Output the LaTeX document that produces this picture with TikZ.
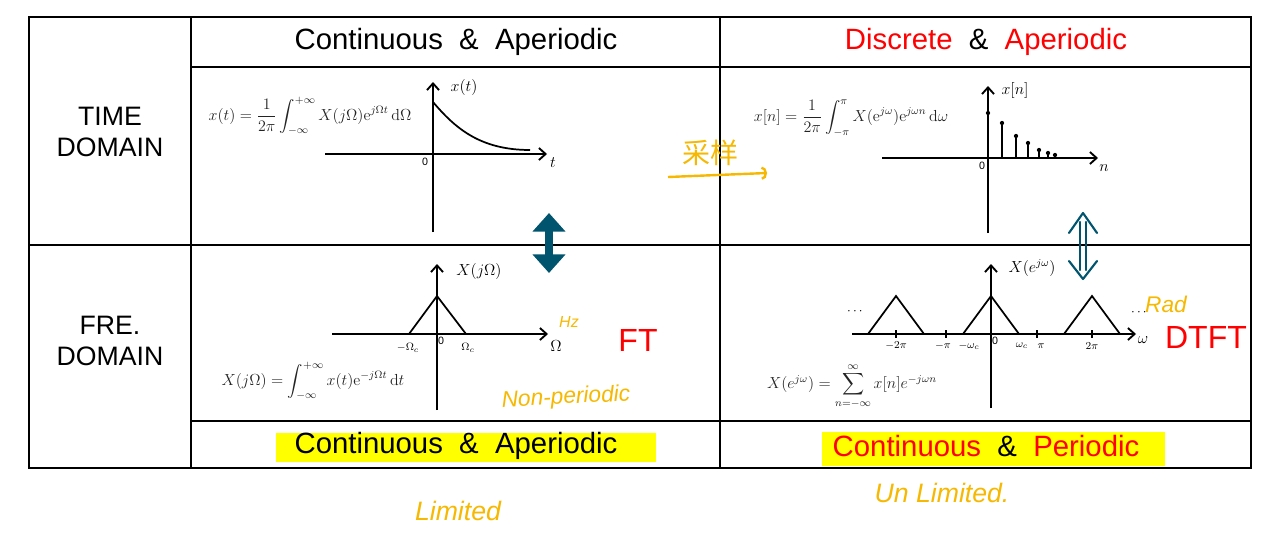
\documentclass[tikz,border=0pt]{standalone}
\usepackage{amsmath}
\usepackage{amssymb}
\usepackage[no-math]{fontspec}
\setmainfont{Liberation Sans}
\newfontfamily\cjkfont{Noto Sans CJK SC}
\usetikzlibrary{arrows.meta}

\definecolor{arrowteal}{RGB}{0,84,110}
\definecolor{handyellow}{RGB}{246,184,0}
\definecolor{hilite}{RGB}{255,255,0}
\definecolor{formulagray}{RGB}{35,35,35}

\begin{document}
\begin{tikzpicture}[x=0.75pt, y=-0.75pt,
  tabline/.style={line width=1.3pt},
  axis/.style={line width=1.4pt, -{Straight Barb[length=5pt,width=9pt]}},
  sketch/.style={line width=1.3pt},
  heading/.style={font=\fontsize{22}{25}\selectfont},
  rowname/.style={font=\fontsize{20}{23}\selectfont, align=center},
  bigname/.style={font=\fontsize{24}{28}\selectfont, text=red},
  formula/.style={text=formulagray, font=\fontsize{11.5}{13}\selectfont},
  axlabel/.style={font=\large},
  ticklabel/.style={font=\footnotesize, inner sep=1pt},
  hand/.style={text=handyellow, font=\itshape\fontsize{17}{20}\selectfont},
  tealbold/.style={draw=arrowteal, line width=6pt, {Triangle[length=14pt,width=24pt]}-{Triangle[length=14pt,width=24pt]}},
  tealthin/.style={draw=arrowteal, line width=1.6pt, line cap=round, line join=round}]

\useasboundingbox (0,0) rectangle (1269,543) ;

\fill [hilite] (276,433) rectangle (656,462) ;
\fill [hilite] (822,432) rectangle (1165,466) ;

\draw [tabline] (29,17) rectangle (1251,468) ;
\draw [tabline] (191,17) to (191,468) ;
\draw [tabline] (720,17) to (720,468) ;
\draw [tabline] (191,67) to (1251,67) ;
\draw [tabline] (29,245) to (1251,245) ;
\draw [tabline] (191,421) to (1251,421) ;

\node [heading] (hdrCont) at (456,42) {Continuous~~\&~~Aperiodic} ;
\node [heading] (hdrDisc) at (986,42) {\textcolor{red}{Discrete}~~\&~~\textcolor{red}{Aperiodic}} ;
\node [rowname] (rowTime) at (110,132) {TIME\\DOMAIN} ;
\node [rowname] (rowFreq) at (110,341) {FRE.\\DOMAIN} ;
\node [heading] (botCont) at (456,446) {Continuous~~\&~~Aperiodic} ;
\node [heading] (botPer) at (986,446) {\textcolor{red}{Continuous}~~\&~~\textcolor{red}{Periodic}} ;

\draw [axis] (325,154) to (547,154) ;
\draw [axis] (433,232) to (433,82) ;
\draw [sketch] (433,102) .. controls (455,128) and (480,150) .. (530,150) ;
\node [axlabel] (xtLabel) at (464,87) {$x(t)$} ;
\node [axlabel] (tLabel) at (553,163) {$t$} ;
\node [ticklabel] (oTime) at (425,162) {0} ;
\node [formula] (synCont) at (310,116) {$x(t)=\dfrac{1}{2\pi}\displaystyle\int_{-\infty}^{+\infty}X(j\Omega)\mathrm{e}^{j\Omega t}\,\mathrm{d}\Omega$} ;

\draw [axis] (882,158) to (1098,158) ;
\draw [axis] (988,233) to (988,86) ;
\foreach \sx/\sy in {988/113, 1002/123, 1016/136, 1028/143, 1039/150, 1048/153, 1055/155}
{
  \draw [sketch] (\sx,158) to (\sx,\sy) ;
  \fill (\sx,\sy) circle [radius=1.6pt] ;
}
\node [axlabel] (xnLabel) at (1015,90) {$x[n]$} ;
\node [axlabel] (nLabel) at (1104,168) {$n$} ;
\node [ticklabel] (oDisc) at (982,166) {0} ;
\node [formula] (synDisc) at (851,118) {$x[n]=\dfrac{1}{2\pi}\displaystyle\int_{-\pi}^{\pi}X(\mathrm{e}^{j\omega})\mathrm{e}^{j\omega n}\,\mathrm{d}\omega$} ;

\node [hand, font=\cjkfont\fontsize{21}{24}\selectfont] (sampleNote) at (710,153) {采样} ;
\coordinate (sampleStart) at (668,177) ;
\coordinate (sampleEnd) at (767,173) ;
\draw [handyellow, line width=1.8pt, -{Arc Barb[length=4pt,width=10pt]}] (sampleStart) to (sampleEnd) ;

\draw [axis] (332,334) to (548,334) ;
\draw [axis] (437,410) to (437,264) ;
\draw [sketch] (409,334) to (437,296) to (466,334) ;
\node [ticklabel] (negWc) at (408,348) {$-\Omega_c$} ;
\node [ticklabel] (oCont) at (441,341) {0} ;
\node [ticklabel] (posWc) at (468,348) {$\Omega_c$} ;
\node [axlabel] (omegaBig) at (556,346) {$\Omega$} ;
\node [axlabel] (XjLabel) at (479,271) {$X(j\Omega)$} ;
\node [hand, font=\itshape\large] (hzNote) at (569,322) {Hz} ;
\node [bigname] (ftName) at (638,340) {FT} ;
\node [formula] (anaCont) at (313,381) {$X(j\Omega)=\displaystyle\int_{-\infty}^{+\infty}x(t)\mathrm{e}^{-j\Omega t}\,\mathrm{d}t$} ;
\node [hand, rotate=3] (nonPer) at (566,398) {Non-periodic} ;

\draw [axis] (852,334) to (1136,334) ;
\draw [axis] (991,408) to (991,264) ;
\foreach \cx in {896,991,1092}
  \draw [sketch] (\cx-28,334) to (\cx,296) to (\cx+28,334) ;
\foreach \tx in {896,946,1037,1092}
  \draw [sketch] (\tx,330) to (\tx,338) ;
\node [ticklabel] (negTwoPi) at (896,346) {$-2\pi$} ;
\node [ticklabel] (negPi) at (943,346) {$-\pi$} ;
\node [ticklabel] (negWd) at (969,346) {$-\omega_c$} ;
\node [ticklabel] (oDtft) at (995,341) {0} ;
\node [ticklabel] (posWd) at (1022,346) {$\omega_c$} ;
\node [ticklabel] (posPi) at (1041,346) {$\pi$} ;
\node [ticklabel] (posTwoPi) at (1092,346) {$2\pi$} ;
\node [axlabel] (omegaSmall) at (1143,340) {$\omega$} ;
\node [axlabel] (XeLabel) at (1032,268) {$X(e^{j\omega})$} ;
\node (dotsLeft) at (856,312) {$\cdots$} ;
\node (dotsRight) at (1140,313) {$\cdots$} ;
\node [hand] (radNote) at (1166,304) {Rad} ;
\node [bigname] (dtftName) at (1206,337) {DTFT} ;
\node [formula, inner sep=1pt] (anaDisc) at (852,386) {$X(e^{j\omega})=\displaystyle\sum_{n=-\infty}^{\infty}x[n]e^{-j\omega n}$} ;

\draw [tealbold] (549,213) to (549,273) ;
\draw [tealthin] (1080,222) to (1080,270) ;
\draw [tealthin] (1086,222) to (1086,270) ;
\draw [tealthin] (1069,233) to (1083,213) to (1097,233) ;
\draw [tealthin] (1069,261) to (1083,279) to (1097,261) ;

\node [hand, font=\itshape\fontsize{20}{24}\selectfont] (limNote) at (458,511) {Limited} ;
\node [hand, font=\itshape\fontsize{20}{24}\selectfont] (unlimNote) at (942,493) {Un Limited.} ;

\end{tikzpicture}
\end{document}
